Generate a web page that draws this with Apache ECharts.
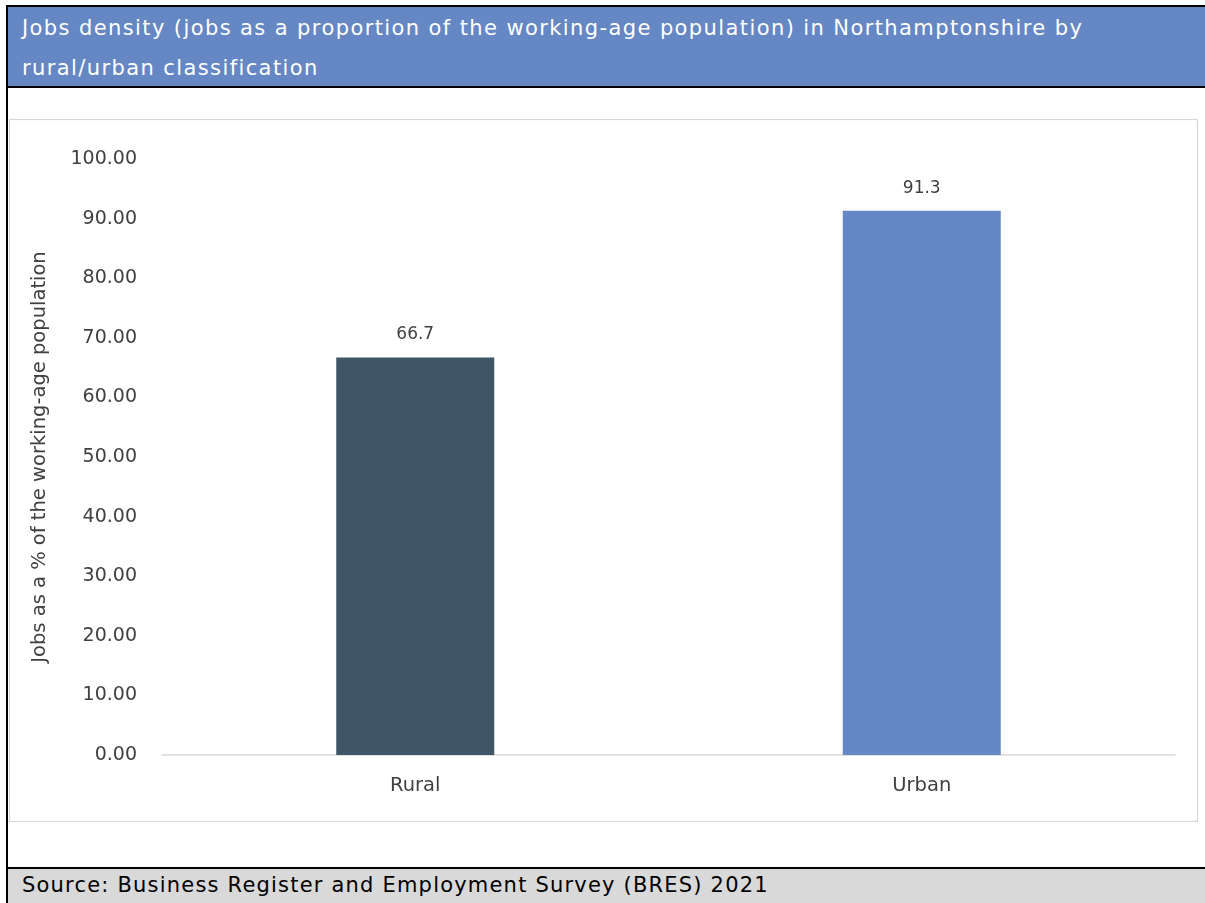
<!DOCTYPE html>
<html>
<head>
<meta charset="utf-8">
<script src="https://cdn.jsdelivr.net/npm/echarts@6/dist/echarts.min.js"></script>
<style>
  html, body { margin: 0; padding: 0; background: #fff; width: 1205px; height: 903px; overflow: hidden; font-family: "DejaVu Sans", sans-serif; }
  .frame { position: absolute; left: 6px; top: 5px; width: 1199px; height: 898px; border-left: 2px solid #000; border-top: 2px solid #000; box-sizing: border-box; }
  .titleband { position: absolute; left: 8px; top: 7px; width: 1197px; height: 79px; background: #6587c4; border-bottom: 2px solid #000; color: #fff; font-size: 21px; line-height: 40px; letter-spacing: 1.4px; }
  .titleband .t { position: absolute; left: 14px; top: 1px; width: 1150px; white-space: nowrap; }
  .footer { position: absolute; left: 8px; top: 867px; width: 1197px; height: 36px; background: #d9d9d9; border-top: 2px solid #000; color: #000; font-size: 21px; letter-spacing: 1.2px; }
  .footer .t { position: absolute; left: 14px; top: 4px; white-space: nowrap; }
  .box { position: absolute; left: 9px; top: 119px; width: 1189px; height: 703px; border: 1px solid #d6d6d6; box-sizing: border-box; box-shadow: inset 0 0 2px #eee; }
  #chart { position: absolute; left: 10px; top: 120px; width: 1187px; height: 701px; }
</style>
</head>
<body>
<div class="frame"></div>
<div class="titleband"><div class="t">Jobs density (jobs as a proportion of the working-age population) in Northamptonshire by<br>rural/urban classification</div></div>
<div class="box"></div>
<div id="chart"></div>
<div class="footer"><div class="t">Source: Business Register and Employment Survey (BRES) 2021</div></div>
<script>
const categories = ["Rural", "Urban"];
const values = [66.7, 91.3];
const barColors = ["#3f5666", "#6587c5"];
const yAxisName = "Jobs as a % of the working-age population";

const chart = echarts.init(document.getElementById('chart'), null, { renderer: 'canvas' });
chart.setOption({
  animation: false,
  textStyle: { fontFamily: "DejaVu Sans" },
  grid: { left: 152, right: 22, top: 39, bottom: 66 },
  xAxis: {
    type: 'category',
    data: categories,
    axisTick: { show: false },
    axisLine: { lineStyle: { color: '#d9d9d9', width: 1.5 } },
    axisLabel: { fontSize: 19.5, color: '#404040', margin: 21, fontFamily: "DejaVu Sans" }
  },
  yAxis: {
    type: 'value',
    min: 0, max: 100, interval: 10,
    name: yAxisName,
    nameLocation: 'middle',
    nameGap: 112,
    nameTextStyle: { fontSize: 19.5, color: '#404040', fontFamily: "DejaVu Sans" },
    axisLine: { show: false },
    axisTick: { show: false },
    splitLine: { show: false },
    axisLabel: { fontSize: 19, color: '#404040', margin: 25, fontFamily: "DejaVu Sans", formatter: v => v.toFixed(2) }
  },
  series: [{
    type: 'bar',
    data: values.map((v, i) => ({ value: v, itemStyle: { color: barColors[i] } })),
    barWidth: 158,
    label: { show: true, position: 'top', distance: 14, fontSize: 17, color: '#404040', fontFamily: "DejaVu Sans" }
  }]
});
</script>
</body>
</html>
